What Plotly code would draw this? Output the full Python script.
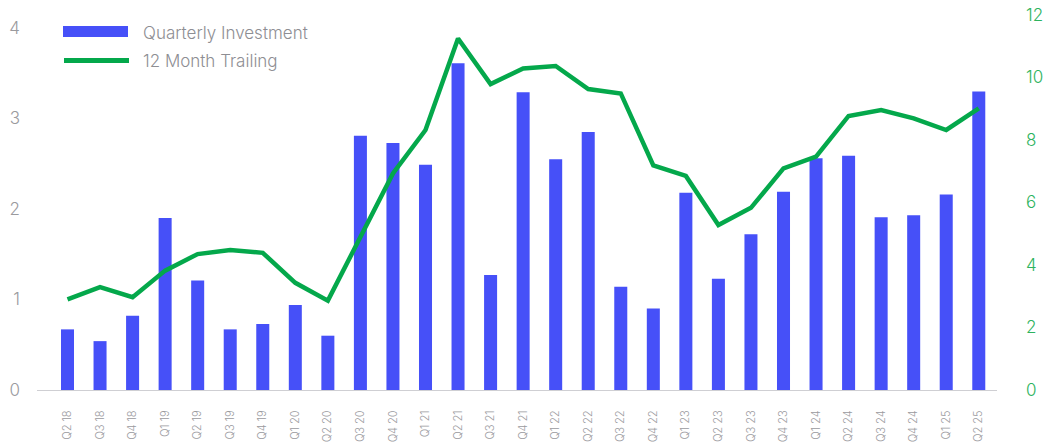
import plotly.graph_objects as go

quarters = ["Q2 18", "Q3 18", "Q4 18", "Q1 19", "Q2 19", "Q3 19", "Q4 19", "Q1 20", "Q2 20",
            "Q3 20", "Q4 20", "Q1 21", "Q2 21", "Q3 21", "Q4 21", "Q1 22", "Q2 22", "Q3 22",
            "Q4 22", "Q1 23", "Q2 23", "Q3 23", "Q4 23", "Q1 24", "Q2 24", "Q3 24", "Q4 24",
            "Q1 25", "Q2 25"]

quarterly_investment = [0.67, 0.54, 0.82, 1.90, 1.21, 0.67, 0.73, 0.94, 0.60,
                        2.81, 2.73, 2.49, 3.61, 1.27, 3.29, 2.55, 2.85, 1.14,
                        0.90, 2.18, 1.23, 1.72, 2.19, 2.56, 2.59, 1.91, 1.93,
                        2.16, 3.30]

trailing_12m = [2.90, 3.29, 2.97, 3.82, 4.35, 4.48, 4.39, 3.43, 2.86,
                4.91, 6.93, 8.32, 11.25, 9.79, 10.29, 10.37, 9.63, 9.49,
                7.19, 6.85, 5.28, 5.83, 7.09, 7.47, 8.77, 8.96, 8.69,
                8.32, 9.01]

left_ticks = [0, 1, 2, 3, 4]
right_ticks = [0, 2, 4, 6, 8, 10, 12]

BLUE = "#4650F8"
GREEN = "#04A84B"
GRAY = "#8E8E93"
FONT = "Inter"

fig = go.Figure()
fig.add_trace(go.Bar(x=quarters, y=quarterly_investment, name="Quarterly Investment",
                     marker=dict(color=BLUE, line=dict(width=0)), yaxis="y"))
fig.add_trace(go.Scatter(x=quarters, y=trailing_12m, name="12 Month Trailing", mode="lines",
                         line=dict(color=GREEN, width=4.5), yaxis="y2"))

fig.update_layout(
    width=1052, height=443,
    margin=dict(l=37, r=55, t=15, b=53, autoexpand=False),
    plot_bgcolor="white", paper_bgcolor="white",
    bargap=0.6,
    showlegend=False,
    font=dict(family=FONT, color=GRAY),
    xaxis=dict(
        type="category", range=[-0.937, 28.56], automargin=False,
        tickangle=-90, tickfont=dict(size=11, color="#9a9a9e", family=FONT, weight=300),
        showline=True, linecolor="#cfcfd3", linewidth=1,
        showgrid=False, ticks="", ticklabelstandoff=15,
    ),
    yaxis=dict(
        range=[0, 4.144], tickvals=left_ticks, showgrid=False, zeroline=False,
        automargin=False,
        tickfont=dict(size=17, color="#9a9a9e", family=FONT, weight=300),
        ticklabelstandoff=16,
    ),
    yaxis2=dict(
        range=[0, 12], tickvals=right_ticks, overlaying="y", side="right",
        showgrid=False, zeroline=False, automargin=False,
        tickfont=dict(size=17, color="#2DB35E", family=FONT, weight=300),
        ticklabelstandoff=28,
    ),
    shapes=[
        dict(type="rect", xref="paper", yref="paper",
             x0=(63 - 37) / 960, x1=(128 - 37) / 960,
             y0=(390 - 37) / 375, y1=(390 - 26) / 375,
             fillcolor=BLUE, line=dict(width=0)),
        dict(type="line", xref="paper", yref="paper",
             x0=(64 - 37) / 960, x1=(129 - 37) / 960,
             y0=(390 - 60.5) / 375, y1=(390 - 60.5) / 375,
             line=dict(color=GREEN, width=5)),
    ],
    annotations=[
        dict(text="Quarterly Investment", xref="paper", yref="paper",
             x=(141 - 37) / 960, y=(390 - 33) / 375, xanchor="left", yanchor="middle",
             showarrow=False, font=dict(size=17, color=GRAY, family=FONT, weight=300)),
        dict(text="12 Month Trailing", xref="paper", yref="paper",
             x=(141 - 37) / 960, y=(390 - 61) / 375, xanchor="left", yanchor="middle",
             showarrow=False, font=dict(size=17, color=GRAY, family=FONT, weight=300)),
    ],
)

fig.write_html("out.html", config={"displayModeBar": False},
               post_script="document.body.style.margin='0';document.body.style.overflow='hidden';")
